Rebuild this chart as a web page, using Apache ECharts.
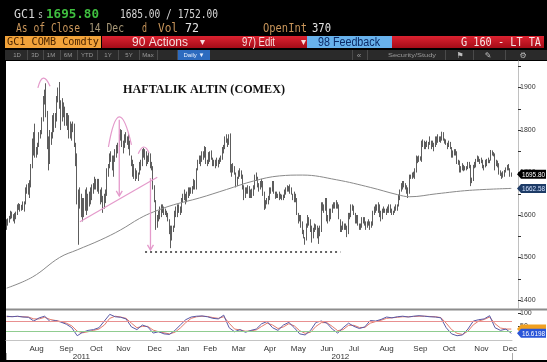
<!DOCTYPE html>
<html><head><meta charset="utf-8">
<script src="https://cdn.jsdelivr.net/npm/echarts@6/dist/echarts.min.js"></script>
<style>html,body{margin:0;padding:0;background:#000;overflow:hidden}#c{width:547px;height:362px}</style>
</head><body><div id="c"></div>
<script>
// ---------- DATA ----------
const startDate = '2011-07-13', endDate = '2012-12-14';
// daily [high, low] bars, one line per month
const priceRanges = [
[1590,1565],[1592,1575],[1598,1582],[1610,1590],[1608,1592],[1602,1585],[1605,1580],[1608,1590],[1625,1600],[1628,1612],[1626,1608],[1624,1610],[1632,1612],
[1632,1608],[1665,1625],[1672,1650],[1675,1648],[1682,1640],[1720,1665],[1780,1710],[1795,1740],[1815,1735],[1760,1735],[1770,1742],[1795,1760],[1800,1780],[1830,1790],[1880,1820],[1895,1860],[1910,1830],[1845,1755],[1785,1705],[1800,1720],[1795,1765],[1835,1780],[1840,1795],
[1840,1805],[1880,1820],[1900,1865],[1913,1850],[1870,1800],[1875,1820],[1865,1830],[1855,1810],[1840,1810],[1840,1800],[1835,1780],[1820,1780],[1815,1775],[1820,1795],[1815,1760],[1770,1715],[1745,1625],[1660,1530],[1665,1615],[1650,1595],[1640,1585],[1640,1595],
[1660,1610],[1665,1600],[1650,1610],[1655,1620],[1665,1625],[1672,1635],[1675,1650],[1690,1660],[1685,1660],[1685,1655],[1685,1650],[1660,1625],[1665,1630],[1645,1605],[1650,1615],[1660,1628],[1710,1645],[1720,1690],[1745,1710],[1750,1725],[1740,1705],
[1740,1690],[1755,1725],[1765,1735],[1770,1745],[1790,1760],[1802,1775],[1800,1760],[1775,1745],[1790,1758],[1795,1770],[1785,1765],[1790,1755],[1775,1740],[1740,1715],[1730,1690],[1720,1685],[1710,1680],[1705,1685],[1700,1680],[1725,1695],[1730,1705],[1755,1715],
[1758,1735],[1755,1730],[1750,1715],[1740,1720],[1748,1725],[1745,1710],[1725,1705],[1715,1660],[1670,1630],[1635,1565],[1600,1570],[1610,1585],[1620,1590],[1625,1595],[1625,1605],[1620,1600],[1615,1600],[1610,1595],[1605,1585],[1590,1555],[1575,1522],[1575,1540],
[1575,1560],[1610,1570],[1620,1595],[1625,1595],[1625,1605],[1620,1600],[1640,1605],[1650,1630],[1660,1635],[1650,1625],[1655,1630],[1665,1640],[1665,1645],[1665,1650],[1668,1650],[1685,1660],[1682,1660],[1710,1660],[1730,1705],[1740,1720],[1740,1715],[1750,1725],
[1750,1730],[1762,1735],[1760,1720],[1730,1715],[1748,1720],[1750,1725],[1752,1730],[1735,1715],[1730,1715],[1730,1710],[1735,1715],[1730,1712],[1735,1720],[1740,1725],[1760,1730],[1765,1745],[1785,1755],[1790,1770],[1780,1760],[1790,1765],[1792,1700],
[1720,1690],[1722,1700],[1715,1695],[1700,1665],[1690,1668],[1705,1685],[1710,1690],[1705,1685],[1695,1660],[1670,1635],[1665,1640],[1665,1650],[1670,1650],[1668,1640],[1660,1640],[1662,1640],[1670,1645],[1695,1660],[1700,1680],[1690,1665],[1675,1655],[1680,1660],
[1685,1665],[1680,1645],[1655,1612],[1635,1615],[1640,1625],[1645,1625],[1665,1635],[1665,1650],[1680,1655],[1680,1650],[1655,1638],[1655,1640],[1650,1640],[1655,1635],[1650,1638],[1648,1635],[1648,1635],[1660,1640],[1665,1648],[1670,1655],[1668,1655],
[1672,1650],[1665,1648],[1650,1635],[1655,1630],[1650,1630],[1640,1600],[1605,1580],[1600,1585],[1600,1570],[1585,1555],[1565,1545],[1548,1530],[1580,1540],[1600,1570],[1595,1575],[1590,1560],[1575,1535],[1570,1545],[1580,1560],[1578,1565],[1575,1545],[1570,1532],[1575,1550],
[1630,1560],[1630,1610],[1625,1605],[1640,1610],[1640,1585],[1600,1580],[1615,1585],[1615,1590],[1625,1605],[1630,1615],[1630,1615],[1635,1615],[1630,1615],[1625,1590],[1590,1560],[1575,1560],[1585,1565],[1580,1565],[1580,1565],[1575,1548],[1605,1555],
[1605,1590],[1625,1595],[1625,1610],[1622,1600],[1605,1580],[1600,1580],[1600,1575],[1580,1565],[1580,1565],[1595,1570],[1595,1580],[1595,1575],[1585,1565],[1585,1570],[1590,1575],[1585,1565],[1585,1570],[1610,1575],[1620,1600],[1625,1605],[1625,1610],[1630,1605],
[1625,1595],[1610,1585],[1615,1590],[1620,1605],[1615,1605],[1615,1600],[1620,1605],[1625,1605],[1625,1605],[1615,1600],[1610,1600],[1620,1605],[1625,1610],[1625,1610],[1648,1620],[1660,1635],[1675,1655],[1680,1660],[1680,1665],[1675,1660],[1670,1650],[1665,1640],[1695,1650],
[1695,1685],[1700,1685],[1702,1688],[1710,1685],[1740,1700],[1738,1722],[1740,1725],[1738,1728],[1775,1725],[1778,1760],[1775,1755],[1772,1755],[1775,1760],[1772,1755],[1785,1765],[1775,1755],[1775,1760],[1770,1750],[1785,1760],[1785,1765],
[1790,1770],[1785,1772],[1785,1770],[1796,1775],[1795,1775],[1780,1768],[1778,1765],[1770,1755],[1775,1760],[1772,1755],[1760,1735],[1752,1735],[1755,1740],[1755,1740],[1750,1720],[1730,1718],[1728,1700],[1715,1700],[1722,1705],[1718,1703],[1715,1705],[1715,1705],[1725,1708],
[1725,1710],[1718,1668],[1688,1675],[1718,1680],[1725,1710],[1732,1712],[1740,1725],[1738,1725],[1732,1720],[1735,1722],[1730,1710],[1718,1705],[1730,1712],[1732,1715],[1735,1722],[1730,1722],[1753,1728],[1752,1740],[1748,1738],[1745,1705],[1730,1715],[1728,1712],
[1722,1695],[1705,1692],[1700,1685],[1703,1688],[1706,1690],[1712,1700],[1718,1705],[1720,1705],[1710,1690],[1700,1690]
];
const lastClose = 1695.80, rangeLow = 1685.00, rangeHigh = 1752.00;
const maLast = 1662.58;
// 200-day moving average read at [bar index, value]
const ma200 = [[0,1428],[19,1454],[39,1500],[52,1518],[69,1541],[84,1565],[98,1592],[108,1607],[123,1624],[142,1640],[162,1660],[182,1680],[201,1692],[218,1694],[243,1683],[268,1665],[288,1648],[297,1643],[317,1650],[341,1658],[372,maLast]];
// RSI and its signal, read every 4 bars
const rsiStep = 4;
const rsi = [88,86,88,85,84,70,82,88,68,72,66,58,45,15,28,35,38,45,70,95,86,84,78,48,38,55,48,25,30,22,20,35,55,75,85,88,89,86,80,78,92,45,30,38,28,35,40,60,68,45,35,55,65,45,22,18,35,65,70,62,40,25,45,62,50,42,48,72,70,76,85,82,86,88,85,88,90,88,86,85,82,45,22,15,18,40,70,75,78,90,45,35,40,24];
const rsiSignal = [86,87,87,86,85,78,78,84,76,72,68,62,52,32,26,30,35,40,55,80,88,85,80,62,45,50,50,36,30,26,22,28,44,64,80,86,88,87,83,80,86,62,40,37,32,33,37,50,62,55,42,48,60,52,34,24,28,50,64,64,50,34,38,54,54,46,46,62,68,73,80,82,84,86,86,87,88,88,87,86,83,62,38,24,20,32,56,70,76,85,60,44,40,40];
const rsiLastLabel = '16.6198';
const rsiLevels = [70, 30];
const priceTicks = [1400,1500,1600,1700,1800,1900];
const priceMinorTicks = [1400,1450,1500,1550,1600,1650,1700,1750,1800,1850,1900,1950];
const rsiTicks = [50,100];
const monthTicks = [['2011-08-12','Aug'],['2011-09-13','Sep'],['2011-10-13','Oct'],['2011-11-10','Nov'],['2011-12-13','Dec'],['2012-01-11','Jan'],['2012-02-08','Feb'],['2012-03-08','Mar'],['2012-04-10','Apr'],['2012-05-09','May'],['2012-06-07','Jun'],['2012-07-05','Jul'],['2012-08-08','Aug'],['2012-09-12','Sep'],['2012-10-11','Oct'],['2012-11-14','Nov'],['2012-12-13','Dec']];
const yearTicks = [['2011-09-28','2011'],['2012-06-21','2012']];
const yearBoundary = '2012-01-02';
// hand-drawn annotations in [bar index, price]
const annotArcs = [[[23,1899],[27,1922],[32,1903]],[[75,1760],[83,1831],[92,1765]],[[97,1744],[101,1760],[105,1746]]];
const annotArrows = [[[83,1824],[83,1645]],[[106,1687],[106,1518]]];
const annotTrend = [[54,1584],[111,1689]];
const annotSupport = [[102,1513],[246,1513]];
const title = 'HAFTALIK ALTIN (COMEX)';

// ---------- BUILD ----------
function weekdays(a,b){const out=[];const d=new Date(a+'T00:00:00Z');const e=new Date(b+'T00:00:00Z');while(d<=e){const w=d.getUTCDay();if(w>0&&w<6)out.push(d.toISOString().slice(0,10));d.setUTCDate(d.getUTCDate()+1);}return out;}
const dates = weekdays(startDate,endDate);
const monthMap = Object.fromEntries(monthTicks);
const yearMap = Object.fromEntries(yearTicks);
const NARROW = "'Liberation Sans Narrow','Liberation Sans',sans-serif";
const MONO = "'DejaVu Sans Mono',monospace";
const SANS = "'Liberation Sans',Arial,sans-serif";
const mctx = document.createElement('canvas').getContext('2d');
function txt(text,x,y,o){o=o||{};const size=o.size||10,fam=o.family||MONO,wt=o.weight||'normal';let s=1;if(o.w){mctx.font=wt+' '+size+'px '+fam;s=o.w/mctx.measureText(text).width;}
 return {type:'text',x:x,y:y,scaleX:s,z:o.z||5,style:{text:text,fontSize:size,fontFamily:fam,fontWeight:wt,fill:o.color||'#ddd',align:o.align||'left',verticalAlign:'middle'}};}
function rect(x,y,w,h,fill,z){return {type:'rect',shape:{x:x,y:y,width:w,height:h},style:{fill:fill},z:z||0};}

const chrome = [];
chrome.push(rect(6,61,541,299,'#ffffff',-10));
// header lines
chrome.push(txt('GC1',14,14.5,{w:21,size:13,color:'#d6d6d6'}));
chrome.push(txt('s',38,15,{w:5,size:10,color:'#bdbdbd'}));
chrome.push(txt(lastClose.toFixed(2),46,14.5,{w:53,size:13,weight:'bold',color:'#3fbf3f'}));
chrome.push(txt(rangeLow.toFixed(2)+' / '+rangeHigh.toFixed(2),120,14.5,{w:98,size:13,color:'#d6d6d6'}));
chrome.push(txt('As of Close',16,28.5,{w:64,size:12,color:'#c8955a'}));
chrome.push(txt('14 Dec',89,28.5,{w:35,size:12,color:'#a89878'}));
chrome.push(txt('d',142,28.5,{w:5,size:12,color:'#c8955a'}));
chrome.push(txt('Vol',158,28.5,{w:20,size:12,color:'#c8955a'}));
chrome.push(txt('72',185,28.5,{w:14,size:12,color:'#e4e4e4'}));
chrome.push(txt('OpenInt',263,28.5,{w:44,size:12,color:'#c8955a'}));
chrome.push(txt('370',312,28.5,{w:19,size:12,color:'#e4e4e4'}));
// command bar
chrome.push(rect(5,36,96,12,'#f2a33a',1));
chrome.push(txt('GC1 COMB Comdty',7,42.5,{w:92,size:11,color:'#4a2400'}));
chrome.push({type:'rect',shape:{x:102,y:36,width:442,height:12},z:1,style:{fill:new echarts.graphic.LinearGradient(0,0,0,1,[{offset:0,color:'#dc2230'},{offset:1,color:'#a50c18'}])}});
chrome.push(txt('90 Actions',132,42.5,{w:56,size:12,family:SANS,color:'#f6dede'}));
chrome.push(txt('\u25BE',200,42.5,{size:10,family:SANS,color:'#f6dede'}));
chrome.push(txt('97) Edit',242,42.5,{w:33,size:12,family:SANS,color:'#f6dede'}));
chrome.push(txt('\u25BE',301,42.5,{size:10,family:SANS,color:'#f6dede'}));
chrome.push(rect(307,36,85,12,'#68b2ec',2));
chrome.push(txt('98 Feedback',318,42.5,{w:62,size:12,family:SANS,color:'#0c2a66'}));
chrome.push(txt('G 160 - LT TA',461,42.5,{w:80,size:12,color:'#f6e6e6'}));
// toolbar
chrome.push(rect(5,50,542,10,'#2a2a2a',1));
[27,43,60,77,97,118,139,157,177,352,367,445,473,505].forEach(x=>chrome.push(rect(x,50,1,10,'#4a4a4a',2)));
[['1D',17],['3D',35],['1M',51],['6M',68],['YTD',87],['1Y',108],['5Y',129],['Max',148]].forEach(([t,x])=>chrome.push(txt(t,x,55.5,{size:6,family:SANS,color:'#9a9a9a',align:'center'})));
chrome.push(rect(178,50,32,10,'#2d6bbf',2));
chrome.push(txt('Daily \u25BC',194,55.5,{size:6,family:SANS,color:'#e8f0ff',align:'center'}));
chrome.push(txt('\u00AB',359,55.5,{size:8,family:SANS,color:'#9a9a9a',align:'center'}));
chrome.push(txt('Security/Study',388,55.5,{w:48,size:6,family:SANS,color:'#9a9a9a'}));
chrome.push(txt('\u2691',460,55.5,{size:8,family:"'DejaVu Sans'",color:'#bdbdbd',align:'center'}));
chrome.push(txt('\u270E',488,55.5,{size:8,family:"'DejaVu Sans'",color:'#bdbdbd',align:'center'}));
chrome.push(txt('\u2699',523,55.5,{size:8,family:"'DejaVu Sans'",color:'#bdbdbd',align:'center'}));
// panel separator + title
chrome.push(rect(6,308.5,541,2,'#8c8c8c',3));
chrome.push(txt(title,123,90,{w:162,size:13,family:"'Liberation Serif',serif",weight:'bold',color:'#111'}));

const chart = echarts.init(document.getElementById('c'),null,{renderer:'canvas',width:547,height:362});
const option = {
  animation:false,
  backgroundColor:'#000',
  grid:[{left:6,top:61,width:506,height:247},{left:6,top:311,width:506,height:32}],
  xAxis:[
    {gridIndex:0,type:'category',data:dates,boundaryGap:true,show:false},
    {gridIndex:1,type:'category',data:dates,boundaryGap:true,
     axisLine:{show:true,lineStyle:{color:'#c4c4c4',width:1}},axisTick:{show:false},splitLine:{show:false},
     axisLabel:{interval:(i,v)=>monthMap[v]!==undefined,formatter:(v)=>monthMap[v]||'',color:'#333',fontSize:8,fontFamily:NARROW,margin:2}},
    {gridIndex:1,type:'category',data:dates,boundaryGap:true,position:'bottom',offset:10,
     axisLine:{show:false},splitLine:{show:false},
     axisTick:{show:true,interval:(i,v)=>v===yearBoundary,length:7,lineStyle:{color:'#aaa'}},
     axisLabel:{interval:(i,v)=>yearMap[v]!==undefined,formatter:(v)=>yearMap[v]||'',color:'#333',fontSize:8,fontFamily:NARROW,margin:0}}
  ],
  yAxis:[
    {gridIndex:0,type:'value',position:'right',offset:6,min:1381.2,max:1962.4,splitLine:{show:false},
     axisLine:{show:true,lineStyle:{color:'#c0c0c0'}},
     axisTick:{show:true,length:3,customValues:priceMinorTicks,lineStyle:{color:'#333'}},
     axisLabel:{customValues:priceTicks,formatter:v=>String(v),color:'#333',fontSize:7,fontFamily:NARROW,margin:2}},
    {gridIndex:1,type:'value',position:'right',offset:6,min:-12.1,max:107.5,splitLine:{show:false},
     axisLine:{show:false},
     axisTick:{show:true,length:3,customValues:rsiTicks,lineStyle:{color:'#333'}},
     axisLabel:{customValues:rsiTicks,formatter:v=>String(v),color:'#333',fontSize:7,fontFamily:NARROW,margin:2}}
  ],
  series:[
    {type:'candlestick',xAxisIndex:0,yAxisIndex:0,barWidth:1,
     data:priceRanges.map(r=>[r[1],r[0],r[1],r[0]]),
     itemStyle:{color:'#333',color0:'#333',borderColor:'#333',borderColor0:'#333',borderWidth:0.8}},
    {type:'line',xAxisIndex:0,yAxisIndex:0,data:ma200,smooth:0.4,symbol:'none',lineStyle:{color:'#8a8a8a',width:1}},
    {type:'line',xAxisIndex:1,yAxisIndex:1,data:rsiSignal.map((v,k)=>[k*rsiStep,v]),symbol:'none',lineStyle:{color:'#e27a6e',width:1},
     markLine:{silent:true,symbol:'none',label:{show:false},data:[{yAxis:rsiLevels[0],lineStyle:{color:'#e89090',width:1,type:'solid'}},{yAxis:rsiLevels[1],lineStyle:{color:'#90cc90',width:1,type:'solid'}}]}},
    {type:'line',xAxisIndex:1,yAxisIndex:1,data:rsi.map((v,k)=>[k*rsiStep,v]),symbol:'none',lineStyle:{color:'#5a5aa6',width:1}}
  ]
};
chart.setOption(option);

// overlays positioned through the axes
const P = pt => chart.convertToPixel({xAxisIndex:0,yAxisIndex:0},pt);
const pink = '#e49acb';
const over = [];
annotArcs.forEach(([a,b,c])=>{const p0=P(a),p1=P(b),p2=P(c);const cx=2*p1[0]-(p0[0]+p2[0])/2,cy=2*p1[1]-(p0[1]+p2[1])/2;
  over.push({type:'bezierCurve',z:100,shape:{x1:p0[0],y1:p0[1],x2:p2[0],y2:p2[1],cpx1:cx,cpy1:cy},style:{stroke:pink,fill:null,lineWidth:1.2}});});
annotArrows.forEach(([a,b])=>{const p0=P(a),p1=P(b);
  over.push({type:'line',z:100,shape:{x1:p0[0],y1:p0[1],x2:p1[0],y2:p1[1]},style:{stroke:pink,lineWidth:1.3}});
  over.push({type:'polyline',z:100,shape:{points:[[p1[0]-3,p1[1]-5],[p1[0],p1[1]],[p1[0]+3,p1[1]-5]]},style:{stroke:pink,fill:null,lineWidth:1.3}});});
{const p0=P(annotTrend[0]),p1=P(annotTrend[1]);over.push({type:'line',z:100,shape:{x1:p0[0],y1:p0[1],x2:p1[0],y2:p1[1]},style:{stroke:pink,lineWidth:1.2}});}
{const p0=P(annotSupport[0]),p1=P(annotSupport[1]);over.push({type:'line',z:100,shape:{x1:p0[0],y1:p0[1],x2:p1[0],y2:p1[1]},style:{stroke:'#333',lineWidth:1.5,lineDash:[2,3]}});}
function tag(y,fill,color,text){
  over.push({type:'polygon',z:110,shape:{points:[[517,y],[521,y-4.5],[546,y-4.5],[546,y+4.5],[521,y+4.5]]},style:{fill:fill}});
  if(text) over.push(txt(text,522,y+0.5,{w:23,size:8,family:NARROW,color:color,z:111}));
}
tag(chart.convertToPixel({yAxisIndex:0},lastClose),'#000','#fff',lastClose.toFixed(2));
tag(chart.convertToPixel({yAxisIndex:0},maLast),'#1d3b66','#d4e2ff',maLast.toFixed(2));
tag(chart.convertToPixel({yAxisIndex:1},rsiSignal[rsiSignal.length-1]),'#f0a020','#000','');
tag(chart.convertToPixel({yAxisIndex:1},rsi[rsi.length-1]),'#2a55d8','#fff',rsiLastLabel);
chart.setOption({graphic:[{elements:chrome.concat(over)}]});
</script></body></html>
